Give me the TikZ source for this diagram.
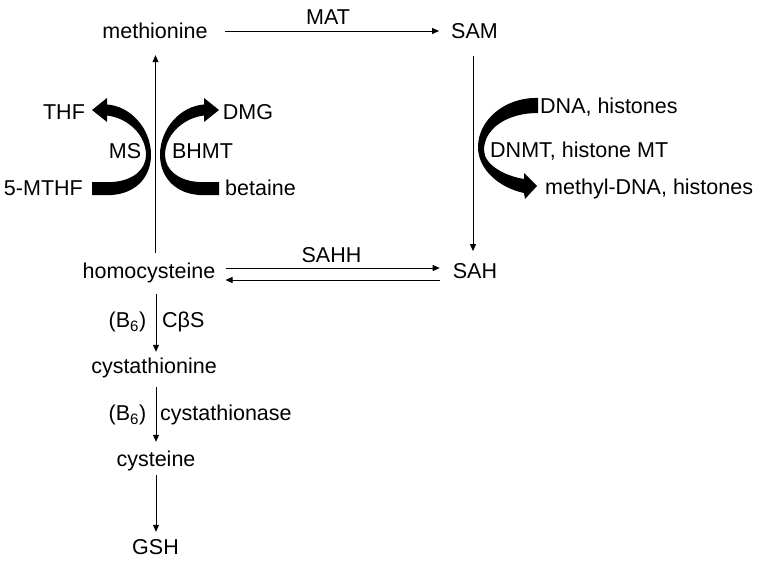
\documentclass[tikz,border=0pt]{standalone}
\usepackage{fontspec}
\setmainfont{Liberation Sans}
\usetikzlibrary{arrows.meta}
\newcommand\msshape{(92,195) -- (112,195) .. controls (138,193) and (151,175) .. (151,155) .. controls (151,128) and (130,106) .. (107,104.5) -- (107,98) -- (92,110) -- (107,122) -- (107,115.5) .. controls (128,118) and (146,135) .. (146,155) .. controls (146,170) and (132,181) .. (112,182) -- (92,182) -- cycle}
\begin{document}
\begin{tikzpicture}[x=1pt,y=-1pt,
  lbl/.style={inner sep=0pt, font=\fontsize{21.5}{24}\selectfont, text height=15.4pt, text depth=0pt},
  conn/.style={line width=0.8pt, -{Triangle[length=7pt,width=6pt]}},
  bigarrow/.style={fill=black, draw=none}]
\useasboundingbox[fill=white] (0,0) rectangle (762,564);

% metabolites
\node[lbl] (met) at (155,31) {methionine};
\node[lbl] (sam) at (474.5,31) {SAM};
\node[lbl] (mat) at (328,17) {MAT};
\node[lbl] (hcy) at (149,271) {homocysteine};
\node[lbl] (sah) at (475,271) {SAH};
\node[lbl] (sahh) at (331.5,255) {SAHH};
\node[lbl] (cysta) at (154,366) {cystathionine};
\node[lbl] (cys) at (156,459) {cysteine};
\node[lbl] (gsh) at (155.5,547) {GSH};

% enzyme labels
\node[lbl] (b6a) at (127.5,320) {(B\textsubscript{6})};
\node[lbl, anchor=west] (cbs) at (162,320) {CβS};
\node[lbl] (b6b) at (127.5,413) {(B\textsubscript{6})};
\node[lbl, anchor=west] (cyn) at (160,413) {cystathionase};

% folate / betaine cycle labels
\node[lbl] (thf) at (64,111.5) {THF};
\node[lbl] (dmg) at (248,111.5) {DMG};
\node[lbl] (ms) at (125,151) {MS};
\node[lbl] (bhmt) at (202.5,151) {BHMT};
\node[lbl, anchor=east] (mthf) at (83,188) {5-MTHF};
\node[lbl, anchor=west] (bet) at (225,188) {betaine};

% methylation labels
\node[lbl, anchor=west] (dna) at (540,105.5) {DNA, histones};
\node[lbl, anchor=west] (dnmt) at (490,150) {DNMT, histone MT};
\node[lbl, anchor=west] (mdna) at (545,187) {methyl-DNA, histones};

% connectors
\draw[conn] ([xshift=17pt]met.east) -- ([xshift=-12pt]sam.west);
\draw[conn] ([xshift=6.5pt,yshift=10pt]hcy.north) -- ([xshift=0.5pt,yshift=-16.3pt]met.south);
\draw[conn] ([xshift=-1.5pt,yshift=-17pt]sam.south) -- ([xshift=-2pt,yshift=12pt]sah.north);
\draw[conn] ([xshift=10pt,yshift=3pt]hcy.east) -- ([xshift=-13pt,yshift=3pt]sah.west);
\draw[conn] ([xshift=-13pt,yshift=-9pt]sah.west) -- ([xshift=10pt,yshift=-9pt]hcy.east);
\draw[conn] ([xshift=7pt,yshift=-15.3pt]hcy.south) -- ([xshift=2pt,yshift=6.3pt]cysta.north);
\draw[conn] ([xshift=2pt,yshift=-13.3pt]cysta.south) -- ([yshift=9.3pt]cys.north);
\draw[conn] ([yshift=-8.3pt]cys.south) -- ([xshift=0.5pt,yshift=7.3pt]gsh.north);

% thick curved arrows
\fill[bigarrow] \msshape;
\begin{scope}[xshift=311pt,xscale=-1]
\fill[bigarrow] \msshape;
\end{scope}
\fill[bigarrow] (538,98) .. controls (505,97) and (478,120) .. (478,147) .. controls (478,170) and (500,188) .. (524,193) -- (525,199) -- (537,186) -- (524,173) -- (524,179) .. controls (505,176) and (484,165) .. (484,150) .. controls (484,130) and (505,113) .. (538,113) -- cycle;
\end{tikzpicture}
\end{document}
